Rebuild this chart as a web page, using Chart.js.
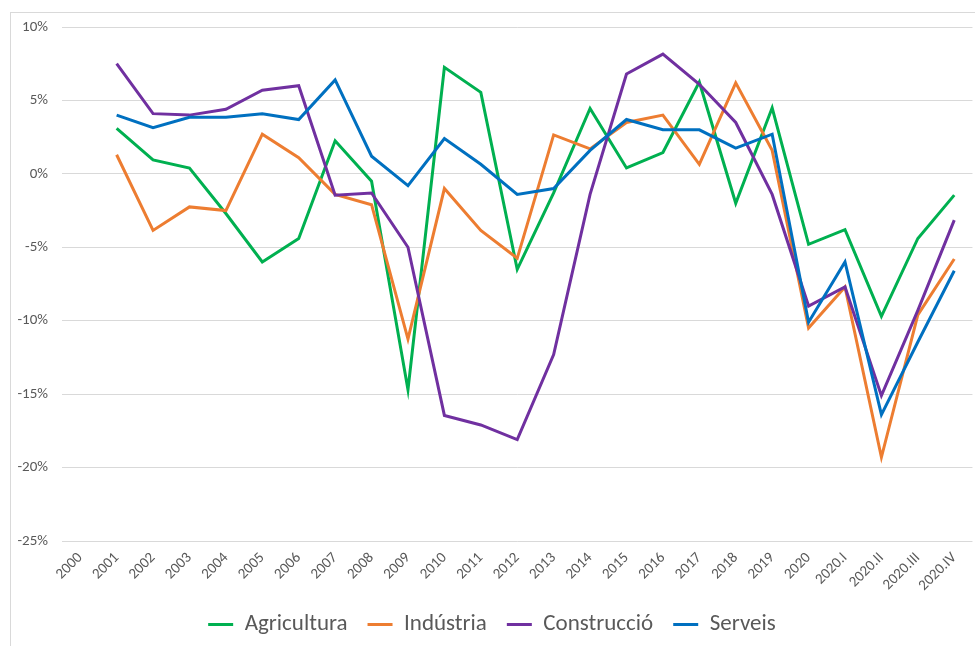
<!DOCTYPE html>
<html>
<head>
<meta charset="utf-8">
<script src="https://cdn.jsdelivr.net/npm/chart.js@4"></script>
<style>
  html, body { margin: 0; padding: 0; background: #fff; }
  #wrap { position: relative; width: 975px; height: 646px; }
  #frame { position: absolute; left: 10px; top: 12px; width: 980px; height: 660px; border-left: 1px solid #d9d9d9; border-top: 1px solid #d9d9d9; }
  canvas { position: absolute; left: 0; top: 0; }
</style>
</head>
<body>
<div id="wrap">
  <div id="frame"></div>
  <canvas id="myChart" width="975" height="646"></canvas>
</div>
<script>
var labels = ['2000', '2001', '2002', '2003', '2004', '2005', '2006', '2007', '2008', '2009', '2010',
  '2011', '2012', '2013', '2014', '2015', '2016', '2017', '2018', '2019', '2020',
  '2020.I', '2020.II', '2020.III', '2020.IV'];

var agricultura = [null, 3.1, 0.95, 0.4, -2.7, -6.0, -4.4, 2.25, -0.5, -14.7, 7.25, 5.55, -6.5, -1.3, 4.45, 0.4, 1.45, 6.25, -2.0, 4.5, -4.8, -3.8, -9.7, -4.4, -1.45];
var industria = [null, 1.3, -3.85, -2.25, -2.5, 2.7, 1.1, -1.4, -2.1, -11.25, -1.0, -3.85, -5.75, 2.65, 1.7, 3.5, 4.0, 0.65, 6.2, 1.6, -10.5, -7.7, -19.3, -9.6, -5.8];
var construccio = [null, 7.5, 4.1, 4.0, 4.4, 5.7, 6.0, -1.45, -1.3, -5.0, -16.45, -17.1, -18.1, -12.3, -1.4, 6.8, 8.15, 6.1, 3.5, -1.4, -9.0, -7.7, -15.1, -9.3, -3.15];
var serveis = [null, 4.0, 3.15, 3.85, 3.85, 4.1, 3.7, 6.4, 1.2, -0.8, 2.4, 0.65, -1.4, -1.0, 1.6, 3.7, 3.0, 3.0, 1.75, 2.7, -10.1, -6.0, -16.4, -11.45, -6.6];

var yTicks = [-25, -20, -15, -10, -5, 0, 5, 10];

var font = 'Carlito, Lato, "Liberation Sans", sans-serif';

function line(label, data, color, order) {
  return {
    label: label,
    data: data,
    borderColor: color,
    backgroundColor: color,
    borderWidth: 3,
    pointRadius: 0,
    tension: 0,
    fill: false,
    order: order
  };
}

var ctx = document.getElementById('myChart').getContext('2d');
var myChart = new Chart(ctx, {
  type: 'line',
  data: {
    labels: labels,
    datasets: [
      line('Agricultura', agricultura, '#00b050', 3),
      line('Indústria', industria, '#ed7d31', 2),
      line('Construcció', construccio, '#7030a0', 1),
      line('Serveis', serveis, '#0070c0', 0)
    ]
  },
  options: {
    responsive: false,
    animation: false,
    layout: { padding: { left: 10, right: 1, top: 27, bottom: 0 } },
    plugins: {
      tooltip: { enabled: false },
      legend: {
        position: 'bottom',
        labels: {
          usePointStyle: true,
          pointStyle: 'line',
          pointStyleWidth: 25,
          padding: 20,
          color: '#595959',
          font: { family: font, size: 23 },
          sort: function (a, b) { return a.datasetIndex - b.datasetIndex; }
        }
      }
    },
    scales: {
      x: {
        offset: true,
        afterFit: function (scale) { scale.height = 52; },
        grid: { display: false, drawTicks: false },
        border: { display: false },
        ticks: {
          minRotation: 45,
          maxRotation: 45,
          autoSkip: false,
          padding: 8,
          color: '#595959',
          font: { family: font, size: 15 }
        }
      },
      y: {
        min: -25,
        max: 10,
        afterFit: function (scale) { scale.width = 52; },
        afterBuildTicks: function (scale) {
          scale.ticks = yTicks.map(function (v) { return { value: v }; });
        },
        grid: { color: '#d9d9d9', lineWidth: 1, drawTicks: false },
        border: { display: false },
        ticks: {
          padding: 14,
          color: '#595959',
          font: { family: font, size: 15 },
          callback: function (v) { return v + '%'; }
        }
      }
    }
  }
});
</script>
</body>
</html>
